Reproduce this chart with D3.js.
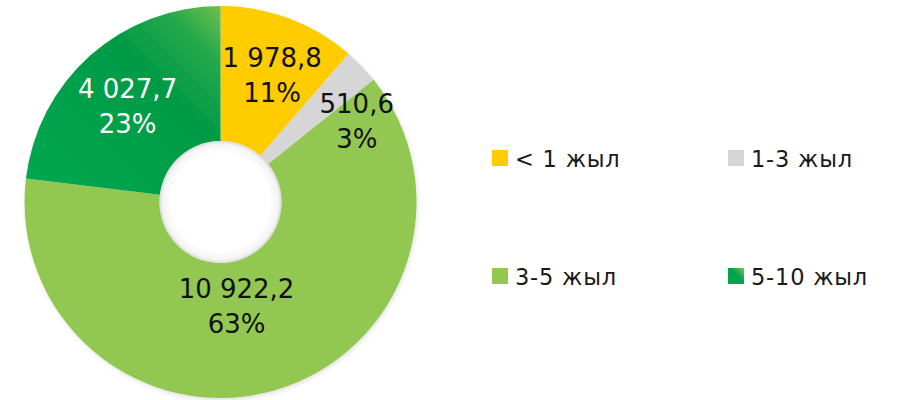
<!DOCTYPE html>
<html>
<head>
<meta charset="utf-8">
<script src="https://cdn.jsdelivr.net/npm/d3@7"></script>
<style>
  html, body { margin: 0; padding: 0; background: #ffffff; }
  svg { display: block; }
  text { font-family: "DejaVu Sans", "Open Sans", sans-serif; }
</style>
</head>
<body>
<svg id="chart" width="897" height="400"></svg>
<script>
// Loan maturity structure
const categories = ["< 1 жыл", "1-3 жыл", "3-5 жыл", "5-10 жыл"];
const amounts = [1978.8, 510.6, 10922.2, 4027.7];
const amountLabels = ["1 978,8", "510,6", "10 922,2", "4 027,7"];
const shareLabels = ["11%", "3%", "63%", "23%"];

const colors = ["#ffcc00", "#d6d6d6", "#92c851", "url(#longGrad)"];
const labelColors = ["#111111", "#111111", "#111111", "#ffffff"];
// label nudges from the slice centroid, in px
const labelNudge = [[7, 2], [44, 17], [-19, -10], [-8, 9]];

const W = 897, H = 400;
const cx = 220.5, cy = 202;
const outerR = 196, innerR = 61;

const svg = d3.select("#chart");
const defs = svg.append("defs");

// gradient of the 5-10 year slice: light green toward the top-right
const grad = defs.append("linearGradient")
  .attr("id", "longGrad")
  .attr("gradientUnits", "userSpaceOnUse")
  .attr("x1", cx - outerR).attr("y1", cy)
  .attr("x2", cx).attr("y2", cy - outerR);
grad.append("stop").attr("offset", 0).attr("stop-color", "#04a850");
grad.append("stop").attr("offset", 0.6).attr("stop-color", "#009a46");
grad.append("stop").attr("offset", 0.8).attr("stop-color", "#25a84b");
grad.append("stop").attr("offset", 1).attr("stop-color", "#88c750");

const swGrad = defs.append("linearGradient")
  .attr("id", "swatchGrad")
  .attr("x1", 0).attr("y1", 1).attr("x2", 1).attr("y2", 0);
swGrad.append("stop").attr("offset", 0).attr("stop-color", "#04a850");
swGrad.append("stop").attr("offset", 0.55).attr("stop-color", "#00a14a");
swGrad.append("stop").attr("offset", 1).attr("stop-color", "#7cc450");

// soft shading on the inside edge of the hole
const holeGrad = defs.append("radialGradient").attr("id", "holeGrad");
holeGrad.append("stop").attr("offset", 0.8).attr("stop-color", "#ffffff");
holeGrad.append("stop").attr("offset", 0.95).attr("stop-color", "#f4f4f4");
holeGrad.append("stop").attr("offset", 1).attr("stop-color", "#d8d8d8");

const shadow = defs.append("filter").attr("id", "ringShadow")
  .attr("x", "-10%").attr("y", "-10%").attr("width", "120%").attr("height", "120%");
shadow.append("feDropShadow")
  .attr("dx", 1).attr("dy", 2).attr("stdDeviation", 2)
  .attr("flood-color", "#000").attr("flood-opacity", 0.12);

const pie = d3.pie().sort(null).value(d => d);
const arcs = pie(amounts);
const arc = d3.arc().innerRadius(innerR).outerRadius(outerR);
const labelArc = d3.arc().innerRadius(128).outerRadius(128);

const g = svg.append("g").attr("transform", `translate(${cx},${cy})`);

g.append("g").attr("filter", "url(#ringShadow)")
  .selectAll("path")
  .data(arcs)
  .join("path")
  .attr("d", arc)
  .attr("fill", (d, i) => colors[i]);

g.append("circle").attr("r", innerR).attr("fill", "url(#holeGrad)");

const labels = g.selectAll("g.lbl")
  .data(arcs)
  .join("g")
  .attr("class", "lbl")
  .attr("transform", (d, i) => {
    const [x, y] = labelArc.centroid(d);
    return `translate(${x + labelNudge[i][0]},${y + labelNudge[i][1]})`;
  });

labels.append("text")
  .attr("text-anchor", "middle")
  .attr("y", -17)
  .attr("font-size", 26)
  .attr("fill", (d, i) => labelColors[i])
  .text((d, i) => amountLabels[i]);

labels.append("text")
  .attr("text-anchor", "middle")
  .attr("y", 17.5)
  .attr("font-size", 26)
  .attr("fill", (d, i) => labelColors[i])
  .text((d, i) => shareLabels[i]);

// legend: two columns, two rows
const legendX = d3.scalePoint().domain([0, 1]).range([492, 728]);
const legendY = d3.scalePoint().domain([0, 1]).range([150, 268]);

const legend = svg.append("g")
  .selectAll("g")
  .data(categories)
  .join("g")
  .attr("transform", (d, i) => `translate(${legendX(i % 2)},${legendY(Math.floor(i / 2))})`);

legend.append("rect")
  .attr("width", 16).attr("height", 16)
  .attr("fill", (d, i) => i === 3 ? "url(#swatchGrad)" : colors[i]);

legend.append("text")
  .attr("x", 23)
  .attr("y", 16.5)
  .attr("font-size", 22.5)
  .attr("letter-spacing", 0.8)
  .attr("fill", "#1a1a1a")
  .text(d => d);
</script>
</body>
</html>
